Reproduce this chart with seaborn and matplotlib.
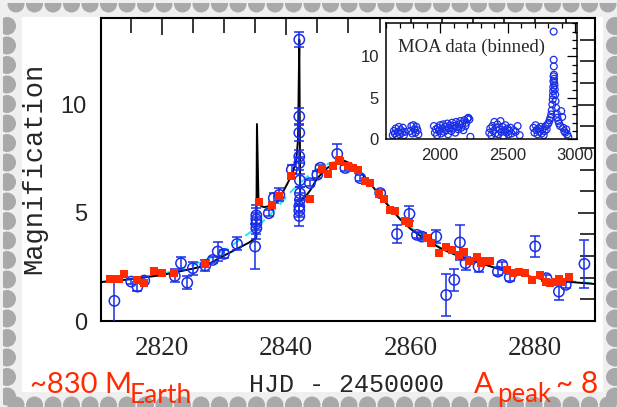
import matplotlib
matplotlib.use('Agg')
from matplotlib import pyplot as plt
from matplotlib.ticker import MultipleLocator
from matplotlib.patches import Rectangle, Circle
import seaborn as sns

# blue points (time, magnification, error)
blue_t = [2812.4, 2815.1, 2816.1, 2817.2, 2822.1, 2823.1, 2824.1, 2825.0, 2827.0, 2828.2,
          2829.0, 2830.0, 2832.1, 2835.0, 2835.2, 2835.2, 2835.2, 2835.2, 2837.2, 2838.0,
          2838.9, 2840.9, 2842.1, 2842.1, 2842.1, 2842.1, 2842.1, 2842.2, 2842.2, 2842.2,
          2842.1, 2842.1, 2842.1, 2843.8, 2845.0, 2845.5, 2848.2, 2849.5, 2851.9, 2855.1,
          2857.8, 2859.8, 2861.0, 2861.8, 2864.1, 2865.7, 2867.0, 2867.9, 2868.8, 2870.9,
          2874.0, 2874.7, 2875.9, 2880.0, 2881.8, 2883.8, 2884.9, 2887.9]
blue_A = [0.93, 1.82, 1.59, 1.87, 2.08, 2.67, 1.77, 2.44, 2.56, 2.82,
          3.21, 3.10, 3.56, 3.44, 4.29, 4.50, 4.70, 4.88, 4.98, 5.68,
          5.83, 6.99, 13.0, 9.45, 8.70, 7.60, 7.30, 6.50, 5.90, 5.60,
          5.30, 5.10, 4.85, 6.37, 6.76, 7.08, 7.72, 7.07, 6.60, 5.91,
          4.02, 4.95, 3.98, 3.90, 3.90, 1.20, 1.90, 3.63, 2.67, 2.51,
          2.28, 2.59, 2.02, 3.45, 1.98, 1.36, 1.67, 2.64]
blue_err = [1.05, 0.12, 0.20, 0.15, 0.30, 0.30, 0.30, 0.30, 0.25, 0.15,
            0.45, 0.20, 0.30, 1.04, 0.50, 0.50, 0.50, 0.50, 0.15, 0.25,
            0.30, 0.20, 0.35, 0.40, 0.40, 0.30, 0.30, 0.30, 0.30, 0.30,
            0.30, 0.30, 0.45, 0.15, 0.15, 0.15, 0.45, 0.15, 0.15, 0.15,
            0.40, 0.35, 0.15, 0.15, 0.30, 0.95, 0.50, 0.80, 0.30, 0.25,
            0.15, 0.15, 0.15, 0.50, 0.15, 0.40, 0.15, 1.10]

# red points
red_t = [2811.7, 2812.5, 2813.2, 2814.0, 2816.0, 2817.2, 2818.8, 2820.0, 2821.9, 2827.0,
         2835.7, 2837.7, 2838.9, 2840.8, 2843.8, 2845.8, 2846.7, 2847.5, 2848.4, 2848.7,
         2850.0, 2850.8, 2851.6, 2852.7, 2853.5, 2854.9, 2855.7, 2856.7, 2857.5, 2859.0,
         2859.7, 2862.6, 2863.2, 2864.5, 2865.6, 2866.7, 2867.7, 2868.5, 2869.6, 2870.6,
         2871.3, 2872.0, 2872.7, 2875.5, 2876.5, 2877.4, 2878.3, 2879.5, 2880.7, 2881.7,
         2882.3, 2883.1, 2883.8, 2884.3, 2885.4]
red_A = [1.93, 1.95, 1.93, 2.17, 1.90, 1.77, 2.33, 2.20, 2.24, 2.62,
         5.48, 5.37, 5.79, 6.71, 5.63, 7.02, 6.81, 7.14, 7.42, 7.38,
         7.14, 7.07, 6.96, 6.45, 6.37, 5.88, 5.63, 5.14, 5.06, 4.60,
         4.52, 3.83, 3.60, 3.13, 3.44, 3.29, 3.06, 3.21, 2.75, 2.95,
         2.70, 2.75, 2.75, 2.36, 2.20, 2.28, 2.20, 1.90, 2.13, 1.82,
         1.74, 1.82, 1.94, 1.82, 2.05]

# planetary model
model_t = [2808, 2810, 2815, 2820, 2825, 2827, 2830, 2832, 2834, 2835.2,
           2835.3, 2835.55, 2836.0, 2836.5, 2837.4, 2838.8, 2840.1, 2840.9, 2841.6, 2841.9,
           2842.1, 2842.25, 2843.1, 2843.9, 2845.0, 2846.6, 2848.4, 2849.2, 2850.5, 2851.9,
           2853.5, 2855.1, 2856.7, 2858.3, 2860.0, 2861.6, 2863.2, 2864.8, 2866.4, 2868.0,
           2871.2, 2874.4, 2877.6, 2880.8, 2884.1, 2887.0, 2890]
model_A = [1.72, 1.79, 1.93, 2.12, 2.42, 2.55, 3.02, 3.32, 3.62, 3.85,
           9.10, 5.50, 5.30, 5.26, 5.32, 5.60, 6.30, 6.76, 7.38, 8.40,
           13.0, 5.60, 5.75, 6.06, 6.60, 7.07, 7.38, 7.42, 7.25, 6.88,
           6.35, 5.78, 5.22, 4.70, 4.25, 3.92, 3.62, 3.36, 3.15, 2.97,
           2.67, 2.38, 2.14, 1.96, 1.84, 1.77, 1.70]

# single lens model
single_t = [2810, 2815, 2820, 2822.7, 2825, 2827.5, 2830.2, 2832.1, 2834.8, 2837.4,
            2839.3, 2840.9, 2843.3, 2845, 2847, 2849, 2851.9, 2855.1, 2858.3, 2861.6,
            2864.8, 2868, 2874.4, 2880.8, 2890]
single_A = [1.80, 1.95, 2.18, 2.36, 2.58, 2.88, 3.28, 3.66, 4.22, 4.90,
            5.50, 6.02, 6.65, 7.02, 7.30, 7.42, 6.90, 5.80, 4.72, 3.95,
            3.38, 2.98, 2.38, 1.97, 1.72]

# MOA binned data (inset)
moa_t = [1650, 1658, 1665, 1672, 1680, 1688, 1695, 1703, 1710, 1718, 1725, 1733, 1740,
         1780, 1788, 1795, 1803, 1810, 1818, 1825, 1833, 1840,
         1955, 1962, 1970, 1978, 1985, 1993, 2000, 2008, 2015, 2023, 2030, 2038, 2045,
         2053, 2060, 2068, 2075, 2083, 2090, 2098, 2105, 2113, 2120, 2128, 2135, 2143,
         2150, 2158, 2165, 2173, 2180, 2188, 2195, 2203, 2210, 2218, 2225,
         2365, 2372, 2380, 2388, 2395, 2403, 2410, 2418, 2425, 2433, 2440, 2448, 2455,
         2463, 2470, 2478, 2485, 2493, 2500, 2508, 2515, 2523, 2530, 2545, 2560, 2575, 2590,
         2692, 2700, 2708, 2715, 2723, 2730, 2738, 2745, 2753, 2760, 2768, 2775, 2783, 2790,
         2798, 2805, 2812, 2818, 2824, 2828, 2832, 2835, 2837, 2838, 2839, 2840, 2841,
         2842, 2842, 2843, 2844, 2845, 2846, 2848, 2850, 2853, 2856, 2860, 2865, 2870,
         2876, 2882, 2890, 2898, 2905, 2912, 2920, 2928, 2935, 2942, 2950]
moa_A = [0.5, 1.0, 0.7, 1.3, 0.4, 0.9, 1.5, 0.6, 1.1, 0.8, 1.4, 0.5, 0.9,
         1.0, 1.6, 0.7, 1.7, 1.2, 0.8, 1.5, 1.1, 0.6,
         1.6, 0.8, 1.2, 0.5, 1.4, 1.0, 1.7, 0.7, 1.3, 1.8, 0.9, 1.5, 1.1,
         1.9, 0.6, 1.4, 1.7, 1.0, 2.0, 1.3, 1.6, 0.8, 2.1, 1.5, 1.2, 1.8,
         2.2, 1.4, 1.9, 1.1, 2.3, 1.6, 2.0, 2.5, 2.6, 2.4, 0.3,
         0.8, 1.3, 0.5, 1.6, 1.0, 2.1, 0.7, 1.4, 1.8, 0.6, 1.2, 2.2, 0.9,
         1.5, 0.4, 1.1, 1.7, 0.8, 1.3, 0.6, 1.0, 1.4, 0.7, 1.1, 0.9, 1.6, 0.5,
         1.4, 0.8, 1.7, 1.1, 0.6, 1.3, 0.9, 1.5, 0.7, 1.2, 0.5, 1.0, 1.6, 1.2,
         1.8, 2.0, 2.3, 2.6, 3.0, 3.5, 4.2, 4.8, 5.3, 5.8, 6.3, 7.0, 7.6,
         13.0, 9.6, 8.8, 7.8, 7.3, 6.8, 6.5, 6.0, 5.4, 4.6, 3.8, 3.1, 2.6,
         2.2, 1.9, 1.6, 3.4, 2.7, 1.4, 1.0, 0.8, 1.2, 0.6, 0.3]

W, H = 617, 407
blue = '#1a2ee6'
red = '#ff2a00'

sns.set_style('white')
plt.rcParams['font.family'] = ['Liberation Sans', 'DejaVu Sans']

fig = plt.figure(figsize=(W / 100, H / 100), dpi=100)
fig.patch.set_facecolor('#efefef')

# stamp-like frame drawn in pixel units
bg = fig.add_axes([0, 0, 1, 1], zorder=-10)
bg.set_xlim(0, W)
bg.set_ylim(H, 0)
bg.axis('off')
bg.add_patch(Rectangle((22, 17), 581, 375, color='white', lw=0))
gray = '#a9a9a9'
x = 16.0
while x < W:
    bg.add_patch(Circle((x, 4), 8.5, color=gray, lw=0))
    bg.add_patch(Circle((x, 405), 8.5, color=gray, lw=0))
    x += 18.5
y = 26.0
while y < H - 8:
    bg.add_patch(Circle((7, y), 9, color=gray, lw=0))
    bg.add_patch(Circle((615, y), 9, color=gray, lw=0))
    y += 19.5
bg.add_patch(Rectangle((0, 0), W, 3, color='#efefef', lw=0))
bg.add_patch(Rectangle((0, 0), 3, H, color='#efefef', lw=0))

# main panel
ax = fig.add_axes([100.7 / W, (H - 321) / H, (595 - 100.7) / W, (321 - 18) / H])
sns.lineplot(x=single_t, y=single_A, ax=ax, color='#1ee6f5', linewidth=1.4,
             linestyle=(0, (5, 3)), sort=False, estimator=None, zorder=2)
sns.lineplot(x=model_t, y=model_A, ax=ax, color='black', linewidth=1.4,
             sort=False, estimator=None, zorder=3)
ax.errorbar(blue_t, blue_A, yerr=blue_err, fmt='none', ecolor=blue,
            elinewidth=1.1, capsize=3.5, capthick=1.1, zorder=4)
sns.scatterplot(x=blue_t, y=blue_A, ax=ax, marker='o', s=55, facecolor='none',
                edgecolor=blue, linewidth=1.1, zorder=5)
sns.scatterplot(x=red_t, y=red_A, ax=ax, marker='s', s=34, color=red,
                linewidth=0, zorder=6)

ax.set_xlim(2810.2, 2889.6)
ax.set_ylim(0, 14.0)
ax.xaxis.set_major_locator(MultipleLocator(20))
ax.xaxis.set_minor_locator(MultipleLocator(5))
ax.yaxis.set_major_locator(MultipleLocator(5))
ax.yaxis.set_minor_locator(MultipleLocator(1))
ax.tick_params(which='both', direction='in', top=True, right=True, color='black')
ax.tick_params(which='major', length=12, width=1.1)
ax.tick_params(which='minor', length=5.8, width=1.1)
ax.tick_params(axis='x', pad=11, labelsize=19.5, labelfontfamily='Liberation Serif')
ax.tick_params(axis='y', pad=10, labelsize=17)
for s in ax.spines.values():
    s.set_linewidth(1.5)
    s.set_color('black')

ax.set_xlabel('HJD - 2450000', family='Liberation Mono', fontsize=18)
ax.xaxis.set_label_coords(0.497, -0.17)
ax.set_ylabel('Magnification', family='Liberation Mono', fontsize=19.5)
ax.yaxis.set_label_coords(-0.109, 0.505)

# inset: MOA binned data
axin = fig.add_axes([386 / W, (H - 139.3) / H, (577.3 - 386) / W, (139.3 - 23.3) / H])
axin.set_facecolor('white')
sns.scatterplot(x=moa_t, y=moa_A, ax=axin, marker='o', s=24, facecolor='none',
                edgecolor=blue, linewidth=0.9)
axin.set_xlim(1600, 3017)
axin.set_ylim(0, 14.0)
axin.xaxis.set_major_locator(MultipleLocator(500))
axin.xaxis.set_minor_locator(MultipleLocator(100))
axin.yaxis.set_major_locator(MultipleLocator(5))
axin.yaxis.set_minor_locator(MultipleLocator(1))
axin.tick_params(which='both', direction='in', top=True, right=True, color='black')
axin.tick_params(which='major', length=7, width=0.9, labelsize=12)
axin.tick_params(which='minor', length=3.6, width=0.9)
axin.tick_params(axis='x', pad=6)
axin.tick_params(axis='y', pad=5)
for s in axin.spines.values():
    s.set_linewidth(1.1)
    s.set_color('black')
axin.text(0.063, 0.75, 'MOA data (binned)', transform=axin.transAxes,
          family='Liberation Serif', fontsize=13.5, va='baseline')

# red annotations
def px(xp, yp):
    return xp / W, 1 - yp / H

fig.text(*px(30, 393), '~830 M', color=red, fontsize=21, family='Lato', va='baseline')
fig.text(*px(130, 403), 'Earth', color=red, fontsize=19, family='Lato', va='baseline')
fig.text(*px(474, 393), 'A', color=red, fontsize=21, family='Lato', va='baseline')
fig.text(*px(497, 402), 'peak', color=red, fontsize=18.5, family='Lato', va='baseline')
fig.text(*px(556, 393), '~ 8', color=red, fontsize=21.5, family='Lato', va='baseline')

fig.canvas.draw()
# longer minor ticks on the top and right sides
for t in ax.xaxis.get_minor_ticks() + ax.yaxis.get_minor_ticks():
    t.tick2line.set_markersize(11)

fig.savefig('out.png', dpi=100, facecolor=fig.get_facecolor())
